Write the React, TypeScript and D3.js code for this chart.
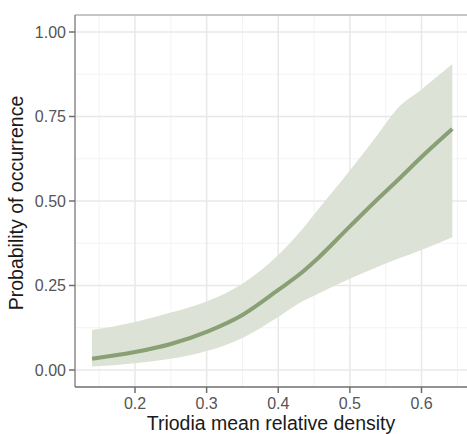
import React from "react";
import * as d3 from "d3";

const xVals = [0.14, 0.2, 0.25, 0.3, 0.35, 0.4, 0.435, 0.45, 0.5, 0.54, 0.567, 0.6, 0.643];
const meanVals = [0.033, 0.053, 0.077, 0.113, 0.163, 0.237, 0.292, 0.32, 0.425, 0.508, 0.562, 0.63, 0.713];
const upperVals = [0.118, 0.142, 0.17, 0.203, 0.255, 0.34, 0.42, 0.46, 0.59, 0.7, 0.775, 0.83, 0.905];
const lowerVals = [0.01, 0.02, 0.033, 0.056, 0.095, 0.157, 0.205, 0.22, 0.27, 0.306, 0.329, 0.355, 0.393];

const xTicks = [0.2, 0.3, 0.4, 0.5, 0.6];
const xMinor = [0.15, 0.25, 0.35, 0.45, 0.55, 0.65];
const yTicks = [0, 0.25, 0.5, 0.75, 1];
const yMinor = [0.125, 0.375, 0.625, 0.875];

const xTitle = "Triodia mean relative density";
const yTitle = "Probability of occurrence";

export default function App() {
  const W = 467, H = 434;
  const left = 75, right = 470, top = 15, bottom = 387;
  const x = d3.scaleLinear().domain([0.2, 0.6]).range([135, 421.5]);
  const y = d3.scaleLinear().domain([0, 1]).range([370, 32]);
  const data = xVals.map((v, i) => ({ x: v, m: meanVals[i], u: upperVals[i], l: lowerVals[i] }));
  const area = d3.area<any>().x(d => x(d.x)).y0(d => y(d.l)).y1(d => y(d.u)).curve(d3.curveMonotoneX);
  const line = d3.line<any>().x(d => x(d.x)).y(d => y(d.m)).curve(d3.curveMonotoneX);
  const font = "'Liberation Sans', Arial, sans-serif";
  return (
    <svg width={W} height={H} style={{ position: "absolute", left: 0, top: 0, background: "#fff" }}>
      <rect x={0} y={0} width={W} height={H} fill="#fff" />
      {xMinor.map(t => (
        <line key={"xm" + t} x1={x(t)} x2={x(t)} y1={top} y2={bottom} stroke="#f3f3f3" strokeWidth={1} />
      ))}
      {yMinor.map(t => (
        <line key={"ym" + t} x1={left} x2={right} y1={y(t)} y2={y(t)} stroke="#f3f3f3" strokeWidth={1} />
      ))}
      {xTicks.map(t => (
        <line key={"xg" + t} x1={x(t)} x2={x(t)} y1={top} y2={bottom} stroke="#e8e8e8" strokeWidth={1.5} />
      ))}
      {yTicks.map(t => (
        <line key={"yg" + t} x1={left} x2={right} y1={y(t)} y2={y(t)} stroke="#e8e8e8" strokeWidth={1.5} />
      ))}
      <path d={area(data) || ""} fill="#dce2d6" />
      <path d={line(data) || ""} fill="none" stroke="#899f74" strokeWidth={4} />
      <line x1={left} x2={right} y1={top} y2={top} stroke="#b3b3b3" strokeWidth={1.5} />
      <line x1={left} x2={left} y1={top} y2={bottom} stroke="#8a8a8a" strokeWidth={1.5} />
      <line x1={left} x2={right} y1={bottom} y2={bottom} stroke="#6e6e6e" strokeWidth={1.5} />
      {yTicks.map(t => (
        <g key={"yt" + t}>
          <line x1={left - 6} x2={left} y1={y(t)} y2={y(t)} stroke="#6e6e6e" strokeWidth={1.5} />
          <text x={66} y={y(t)} dy="0.36em" textAnchor="end" fontFamily={font} fontSize={16} fill="#555">
            {t.toFixed(2)}
          </text>
        </g>
      ))}
      {xTicks.map(t => (
        <g key={"xt" + t}>
          <line x1={x(t)} x2={x(t)} y1={bottom} y2={bottom + 6} stroke="#6e6e6e" strokeWidth={1.5} />
          <text x={x(t)} y={408.5} textAnchor="middle" fontFamily={font} fontSize={16} fill="#555">
            {t.toFixed(1)}
          </text>
        </g>
      ))}
      <text x={271} y={430} textAnchor="middle" fontFamily={font} fontSize={19.5} fill="#1a1a1a">
        {xTitle}
      </text>
      <text transform={`translate(23,${(top + bottom) / 2 + 2}) rotate(-90)`} textAnchor="middle" fontFamily={font} fontSize={19.5} fill="#1a1a1a">
        {yTitle}
      </text>
    </svg>
  );
}
